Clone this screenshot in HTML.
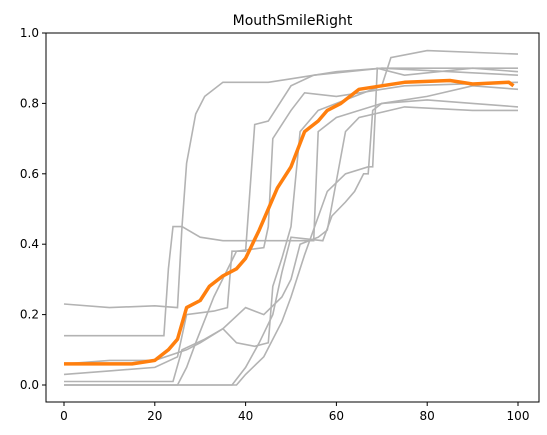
<!DOCTYPE html>
<html><head><meta charset="utf-8">
<style>
body{margin:0;background:#fff;}
svg{display:block;font-family:"DejaVu Sans","Liberation Sans",sans-serif;}
</style></head>
<body>
<svg id="chart" width="547" height="435"></svg>
<script>
// x knots / y values for each gray trial series (data units)
const s1x=[0,10,20,25,26,27,29,31,35,45,50,60,70,100];
const s1y=[0.23,0.22,0.225,0.22,0.45,0.63,0.77,0.82,0.86,0.86,0.87,0.89,0.9,0.9];
const s2x=[0,22,23,24,26,30,35,55,56,60,70,80,90,100];
const s2y=[0.14,0.14,0.33,0.45,0.45,0.42,0.41,0.41,0.72,0.76,0.8,0.81,0.8,0.79];
const s3x=[0,10,20,25,27,33,36,37,40,42,45,50,55,70,100];
const s3y=[0.03,0.04,0.05,0.08,0.2,0.21,0.22,0.38,0.38,0.74,0.75,0.85,0.88,0.9,0.88];
const s4x=[0,25,27,29,33,38,44,45,46,50,53,60,75,100];
const s4y=[0,0,0.05,0.12,0.25,0.38,0.39,0.45,0.7,0.78,0.83,0.82,0.85,0.86];
const s5x=[0,24,26,31,35,38,42,45,46,48,50,52,56,60,70,72,80,100];
const s5y=[0.01,0.01,0.1,0.13,0.16,0.12,0.11,0.12,0.28,0.36,0.45,0.72,0.78,0.8,0.85,0.93,0.95,0.94];
const s6x=[0,38,40,44,48,50,53,58,62,67,68,69,75,90,100];
const s6y=[0,0,0.03,0.08,0.18,0.25,0.37,0.55,0.6,0.62,0.62,0.9,0.88,0.9,0.89];
const s7x=[0,10,20,27,30,35,40,44,48,50,52,56,58,62,65,75,90,100];
const s7y=[0.06,0.07,0.07,0.1,0.12,0.16,0.22,0.2,0.25,0.3,0.4,0.42,0.44,0.72,0.76,0.79,0.78,0.78];
const s8x=[0,37,40,43,46,48,50,57,59,62,64,66,67,68,70,80,90,100];
const s8y=[0,0,0.05,0.12,0.2,0.32,0.42,0.41,0.48,0.52,0.55,0.6,0.6,0.78,0.8,0.82,0.85,0.84];
const grayX=[s1x,s2x,s3x,s4x,s5x,s6x,s7x,s8x];
const grayY=[s1y,s2y,s3y,s4y,s5y,s6y,s7y,s8y];
// mean series
const meanX=[0,15,20,23,25,27,30,32,35,38,40,43,45,47,50,53,56,58,61,65,70,75,85,90,98,99];
const meanY=[0.06,0.06,0.07,0.1,0.13,0.22,0.24,0.28,0.31,0.33,0.36,0.44,0.5,0.56,0.62,0.72,0.75,0.78,0.8,0.84,0.85,0.86,0.865,0.855,0.86,0.85];
const xTicks=[0,20,40,60,80,100];
const yTicks=[0.0,0.2,0.4,0.6,0.8,1.0];

const NS="http://www.w3.org/2000/svg";
const svg=document.getElementById('chart');
const L=46,R=539,T=33,B=402;
const X=v=>64+(v/100)*454;
const Y=v=>385-v*352;
function mk(t,a){const e=document.createElementNS(NS,t);for(const k in a)e.setAttribute(k,a[k]);svg.appendChild(e);return e;}
function path(xs,ys){return xs.map((x,i)=>(i?'L':'M')+X(x).toFixed(1)+','+Y(ys[i]).toFixed(1)).join('');}

grayX.forEach((xs,i)=>{
 const p=mk('path',{d:path(xs,grayY[i]),fill:'none',stroke:'#b3b3b3','stroke-width':1.6});
 
 
});
const m=mk('path',{d:path(meanX,meanY),fill:'none',stroke:'#ff7f0e','stroke-width':3.5,'stroke-linejoin':'round'});



const fr=mk('rect',{x:L,y:T,width:R-L,height:B-T,fill:'none',stroke:'#000','stroke-width':1});



xTicks.forEach(v=>{
 mk('line',{x1:X(v),x2:X(v),y1:B,y2:B+4,stroke:'#000'});
 const t=mk('text',{x:X(v),y:B+18,'text-anchor':'middle','font-size':12});
 t.textContent=v;
 
 
});
yTicks.forEach(v=>{
 mk('line',{x1:L-4,x2:L,y1:Y(v),y2:Y(v),stroke:'#000'});
 const t=mk('text',{x:L-7,y:Y(v)+4,'text-anchor':'end','font-size':12});
 t.textContent=v.toFixed(1);
 
 
});
const ti=mk('text',{x:(L+R)/2,y:T-8,'text-anchor':'middle','font-size':14});
ti.textContent='MouthSmileRight';


</script>
</body></html>
